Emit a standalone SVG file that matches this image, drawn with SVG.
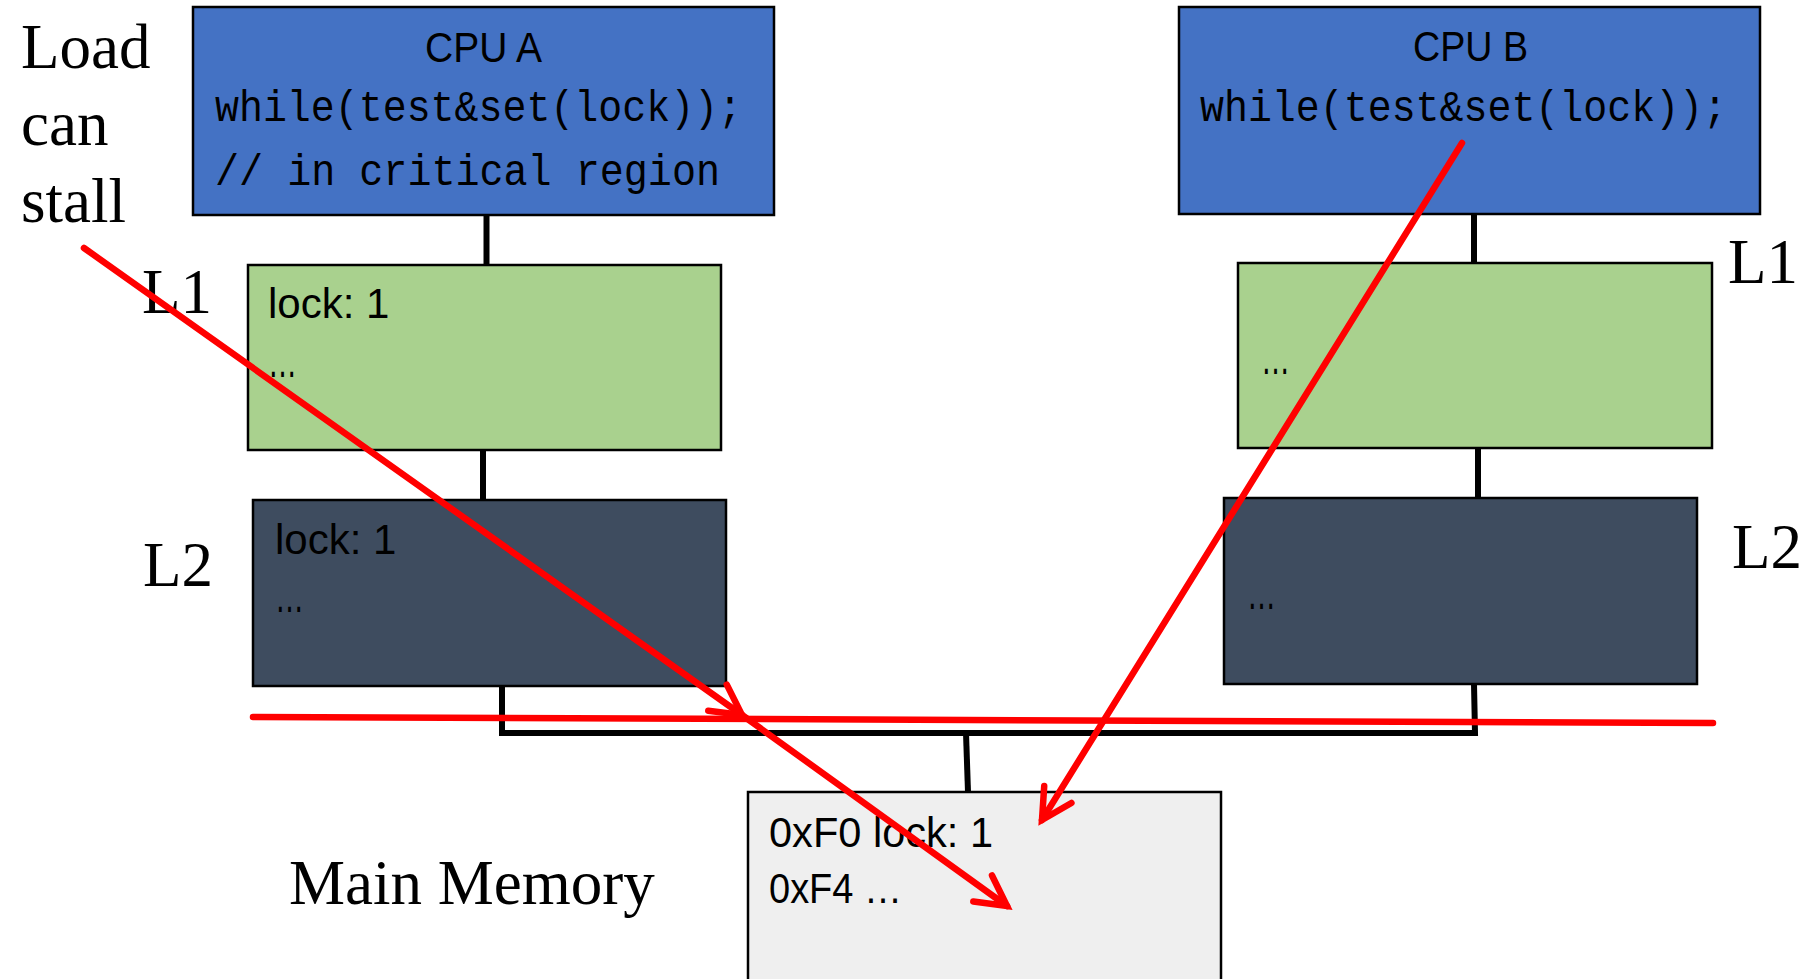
<svg xmlns="http://www.w3.org/2000/svg" width="1809" height="979" viewBox="0 0 1809 979">
  <style>
    .box { stroke: #000; stroke-width: 2.5; }
    .cpu { fill: #4472C4; }
    .l1 { fill: #A9D18E; }
    .l2 { fill: #3E4C5F; }
    .mem { fill: #EFEFEF; }
    .sans { font-family: "Liberation Sans", Arial, sans-serif; font-size: 42px; fill: #000; }
    .dots { font-family: "Liberation Sans", Arial, sans-serif; font-size: 50px; fill: #000; }
    .mono { font-family: "Liberation Mono", "Courier New", monospace; font-size: 44px; fill: #000; }
    .serif { font-family: "Liberation Serif", "Times New Roman", serif; font-size: 63px; fill: #000; }
    .wire { stroke: #000; stroke-width: 6; fill: none; }
    .red { stroke: #FF0000; stroke-width: 6.5; fill: none; stroke-linecap: round; }
  </style>
  <defs>
    <marker id="openArrow" markerUnits="userSpaceOnUse" viewBox="-40 -22 46 44" markerWidth="46" markerHeight="44" refX="0" refY="0" orient="auto" overflow="visible">
      <path d="M -30 -16 L 0 0 L -30 16" fill="none" stroke="#FF0000" stroke-width="6.5" stroke-linecap="round" stroke-linejoin="miter"/>
    </marker>
  </defs>

  <rect width="1809" height="979" fill="#FFFFFF"/>

  <!-- side labels -->
  <g id="labels">
    <text class="serif" x="21" y="68">Load</text>
    <text class="serif" x="21" y="145">can</text>
    <text class="serif" x="21" y="222">stall</text>
    <text class="serif" x="142" y="313">L1</text>
    <text class="serif" x="143" y="586">L2</text>
    <text class="serif" x="1728" y="283">L1</text>
    <text class="serif" x="1732" y="568">L2</text>
    <text class="serif" x="289" y="904">Main Memory</text>
  </g>

  <!-- wiring between the caches, the bus and memory -->
  <g id="connectors">
    <line class="wire" x1="486.5" y1="215" x2="486.5" y2="265"/>
    <line class="wire" x1="483" y1="450" x2="483" y2="500"/>
    <line class="wire" x1="1474" y1="214" x2="1474" y2="263"/>
    <line class="wire" x1="1478" y1="448" x2="1478" y2="498"/>
    <polyline class="wire" points="502,686 502,733 1475,733 1474,684"/>
    <line class="wire" x1="966" y1="733" x2="968" y2="792"/>
  </g>

  <g id="cpuA">
    <rect class="box cpu" x="193" y="7" width="581" height="208"/>
    <text class="sans" x="425" y="62" textLength="117" lengthAdjust="spacingAndGlyphs">CPU A</text>
    <text class="mono" x="215" y="121" textLength="527" lengthAdjust="spacingAndGlyphs">while(test&amp;set(lock));</text>
    <text class="mono" x="215" y="185" textLength="505" lengthAdjust="spacingAndGlyphs">// in critical region</text>
  </g>

  <g id="l1A">
    <rect class="box l1" x="248" y="265" width="473" height="185"/>
    <text class="sans" x="268" y="318">lock: 1</text>
    <text class="dots" x="268" y="377" textLength="29" lengthAdjust="spacingAndGlyphs">…</text>
  </g>

  <g id="l2A">
    <rect class="box l2" x="253" y="500" width="473" height="186"/>
    <text class="sans" x="275" y="554">lock: 1</text>
    <text class="dots" x="275" y="612" textLength="29" lengthAdjust="spacingAndGlyphs">…</text>
  </g>

  <g id="cpuB">
    <rect class="box cpu" x="1179" y="7" width="581" height="207"/>
    <text class="sans" x="1413" y="61" textLength="115" lengthAdjust="spacingAndGlyphs">CPU B</text>
    <text class="mono" x="1200" y="121" textLength="527" lengthAdjust="spacingAndGlyphs">while(test&amp;set(lock));</text>
  </g>

  <g id="l1B">
    <rect class="box l1" x="1238" y="263" width="474" height="185"/>
    <text class="dots" x="1261" y="374" textLength="29" lengthAdjust="spacingAndGlyphs">…</text>
  </g>

  <g id="l2B">
    <rect class="box l2" x="1224" y="498" width="473" height="186"/>
    <text class="dots" x="1247" y="609" textLength="29" lengthAdjust="spacingAndGlyphs">…</text>
  </g>

  <g id="memory">
    <rect class="box mem" x="748" y="792" width="473" height="200"/>
    <text class="sans" x="769" y="847" textLength="224" lengthAdjust="spacingAndGlyphs">0xF0 lock: 1</text>
    <text class="sans" x="769" y="903" textLength="133" lengthAdjust="spacingAndGlyphs">0xF4 …</text>
  </g>

  <!-- red annotation strokes drawn over everything -->
  <g id="annotations">
    <line class="red" x1="253" y1="717" x2="1713" y2="723"/>
    <line class="red" x1="84" y1="248" x2="742" y2="715" marker-end="url(#openArrow)"/>
    <line class="red" x1="742" y1="715" x2="1007" y2="906" marker-end="url(#openArrow)"/>
    <line class="red" x1="1462" y1="143" x2="1042" y2="820" marker-end="url(#openArrow)"/>
  </g>
</svg>
